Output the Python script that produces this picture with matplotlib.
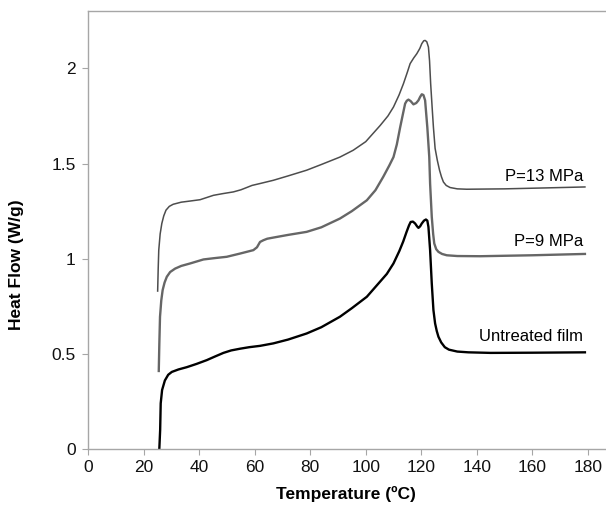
import matplotlib.pyplot as plt

# curve data (Temperature in C, Heat flow in W/g)
untreated_t = [25.6, 25.9, 26.1, 26.6, 27.6, 28.8, 30.1, 32.5, 35.5, 39, 42.7, 45.5, 48.7, 51.5, 54.7, 58,
               61.9, 66.7, 72, 78.7, 84, 90.7, 95, 100.4, 104, 107.6, 110, 112.1, 113.5, 114.7, 115.6, 116.2,
               117, 117.8, 118.5, 119, 119.6, 120.2, 121, 121.7, 122.2, 122.6, 123.2, 123.8, 124.4, 125, 125.6,
               126.2, 127.2, 128.5, 130, 133, 137, 145, 160, 179]
untreated_hf = [0, 0.1, 0.24, 0.31, 0.36, 0.39, 0.405, 0.418, 0.43, 0.447, 0.467, 0.485, 0.505, 0.518, 0.527,
                0.535, 0.542, 0.555, 0.575, 0.607, 0.64, 0.695, 0.74, 0.8, 0.86, 0.92, 0.975, 1.04, 1.09, 1.14,
                1.175, 1.193, 1.195, 1.185, 1.17, 1.162, 1.17, 1.185, 1.2, 1.206, 1.2, 1.167, 1.045, 0.87, 0.73,
                0.66, 0.62, 0.59, 0.56, 0.535, 0.522, 0.512, 0.508, 0.505, 0.506, 0.508]

p9_t = [25.4, 25.6, 25.85, 26.3, 26.8, 27.5, 28.3, 29.5, 31.3, 33.5, 36.7, 41.5, 45.5, 49.9, 54.7, 57.1, 59.5,
        60.8, 61.9, 63.1, 64.5, 66.7, 72, 78.7, 84, 90.7, 95, 100.4, 103.5, 106.3, 108.5, 110, 111.2, 112.4,
        113.4, 114.2, 114.8, 115.4, 116.2, 117.2, 118.2, 119, 119.6, 120.2, 120.8, 121.4, 122.2, 122.9, 123.2,
        123.8, 124.3, 124.7, 125.4, 126.2, 127.5, 129.2, 133, 141.2, 160, 179]
p9_hf = [0.41, 0.55, 0.695, 0.78, 0.835, 0.875, 0.905, 0.93, 0.948, 0.962, 0.975, 0.996, 1.003, 1.01, 1.027,
         1.036, 1.045, 1.06, 1.088, 1.097, 1.105, 1.111, 1.125, 1.141, 1.165, 1.211, 1.25, 1.307, 1.36, 1.43,
         1.49, 1.534, 1.6, 1.69, 1.76, 1.815, 1.83, 1.836, 1.828, 1.811, 1.818, 1.832, 1.85, 1.864, 1.86, 1.832,
         1.69, 1.534, 1.395, 1.22, 1.13, 1.08, 1.05, 1.036, 1.025, 1.018, 1.014, 1.013, 1.018, 1.025]

p13_t = [25.0, 25.2, 25.4, 25.9, 26.5, 27.2, 28, 29.2, 30.6, 33.5, 36.7, 40.3, 45.1, 48.5, 52.3, 55, 57.1, 59,
         61.9, 66.7, 72, 78.7, 84, 90.7, 95.5, 100, 105.2, 108, 110, 112, 113.6, 115, 116, 117.3, 118.4, 119.5,
         120.2, 120.9, 121.4, 122, 122.6, 123, 123.4, 124, 124.4, 125, 125.8, 126.6, 127.3, 128, 129, 130.4,
         133, 136.4, 150, 165, 179]
p13_hf = [0.83, 0.95, 1.045, 1.13, 1.185, 1.225, 1.255, 1.275, 1.286, 1.297, 1.303, 1.31, 1.333, 1.342, 1.351,
          1.362, 1.374, 1.385, 1.395, 1.412, 1.435, 1.465, 1.495, 1.534, 1.57, 1.615, 1.70, 1.75, 1.797, 1.86,
          1.92, 1.98, 2.025, 2.055, 2.077, 2.105, 2.13, 2.145, 2.147, 2.14, 2.112, 2.04, 1.92, 1.78, 1.69, 1.58,
          1.517, 1.465, 1.43, 1.403, 1.385, 1.374, 1.367, 1.365, 1.367, 1.372, 1.377]

labels = ['P=13 MPa', 'P=9 MPa', 'Untreated film']
label_y = [1.433, 1.088, 0.589]

plt.rcParams['font.family'] = ['Liberation Sans', 'DejaVu Sans']

fig = plt.figure(figsize=(6.06, 5.07), dpi=100)
ax = fig.add_axes([0.1457, 0.1144, 1 - 0.1457, 0.8633])

ax.plot(p13_t, p13_hf, color='#4d4d4d', lw=1.1)
ax.plot(p9_t, p9_hf, color='#666666', lw=1.7)
ax.plot(untreated_t, untreated_hf, color='#000000', lw=1.7)

for lab, yy in zip(labels, label_y):
    ax.text(178.3, yy, lab, ha='right', va='center', fontsize=12)

ax.set_xlim(0, 186.6)
ax.set_ylim(0, 2.3)
ax.set_xticks(range(0, 181, 20))
ax.set_yticks([0, 0.5, 1, 1.5, 2])
ax.set_yticklabels(['0', '0.5', '1', '1.5', '2'])

for s in ['left', 'top', 'bottom']:
    ax.spines[s].set_color('#a6a6a6')
    ax.spines[s].set_linewidth(1.0)
ax.spines['right'].set_visible(False)
ax.tick_params(axis='both', direction='out', length=4, color='#a6a6a6', labelsize=12.5, labelcolor='#111111')
ax.tick_params(axis='y', pad=5)
ax.tick_params(axis='x', pad=4)

ax.set_xlabel('Temperature (ºC)', fontsize=12.5, fontweight='bold')
ax.set_ylabel('Heat Flow (W/g)', fontsize=12.5, fontweight='bold')
ax.xaxis.set_label_coords(0.498, -0.085)
ax.yaxis.set_label_coords(-0.124, 0.42)

fig.savefig('out.png', dpi=100)
